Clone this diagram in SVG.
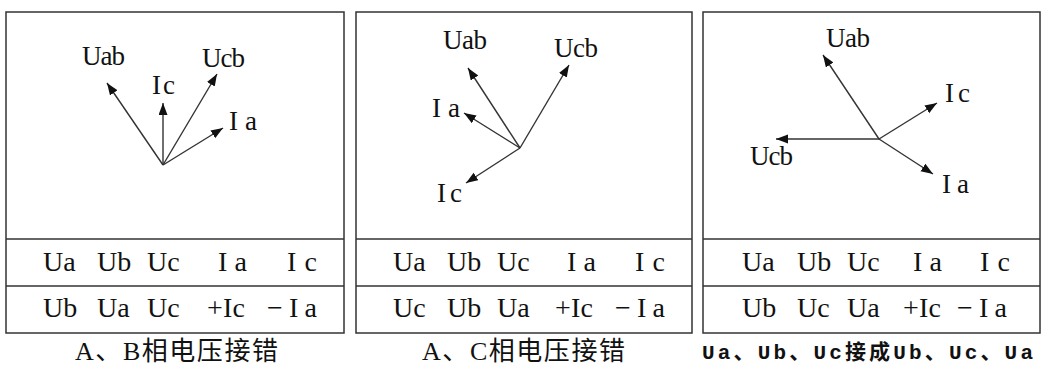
<svg xmlns="http://www.w3.org/2000/svg" width="1043" height="372" viewBox="0 0 1043 372">
<style>
.frame{fill:none;stroke:#333;stroke-width:1.5}
.row{stroke:#333;stroke-width:1.5}
.vec{stroke:#333;stroke-width:1.4;fill:none;marker-end:url(#ah)}
.lbl{font-family:"Liberation Serif","Times New Roman",serif;font-size:27px;fill:#111}
.cell{font-family:"Liberation Serif","Times New Roman",serif;font-size:28px;fill:#111}
.cap{font-family:"Liberation Serif","Noto Sans CJK SC",serif;font-size:26px;fill:#111}
.cap3{font-family:"Liberation Mono","Noto Sans CJK SC",monospace;font-size:21px;font-weight:bold;fill:#111}
</style>
<defs>
<marker id="ah" markerUnits="userSpaceOnUse" markerWidth="13" markerHeight="10" refX="12" refY="4.5" orient="auto">
<path d="M0,0 L12,4.5 L0,9 z" fill="#111"/>
</marker>
</defs>
<g id="panel1">
<rect class="frame" x="6" y="12" width="338" height="321"/>
<line class="row" x1="6" y1="239" x2="344" y2="239"/>
<line class="row" x1="6" y1="286" x2="344" y2="286"/>
<text class="lbl" x="82" y="65" textLength="43">Uab</text>
<text class="lbl" x="152" y="94" textLength="23" lengthAdjust="spacing">Ic</text>
<text class="lbl" x="202" y="67" textLength="43">Ucb</text>
<text class="lbl" x="229" y="130" textLength="28">Ia</text>
<text class="cell" x="43" y="271">Ua</text>
<text class="cell" x="97" y="271">Ub</text>
<text class="cell" x="147" y="271">Uc</text>
<text class="cell" x="218" y="271" textLength="29">Ia</text>
<text class="cell" x="287" y="271" textLength="30">Ic</text>
<text class="cell" x="43" y="317">Ub</text>
<text class="cell" x="97" y="317">Ua</text>
<text class="cell" x="147" y="317">Uc</text>
<text class="cell" x="207" y="317" textLength="38">+Ic</text>
<text class="cell" x="267" y="317" textLength="50">−Ia</text>
<text class="cap" x="75" y="360" textLength="203" lengthAdjust="spacing">A、B相电压接错</text>
</g>
<g id="panel2">
<rect class="frame" x="356" y="12" width="336" height="321"/>
<line class="row" x1="356" y1="239" x2="692" y2="239"/>
<line class="row" x1="356" y1="286" x2="692" y2="286"/>
<text class="lbl" x="443" y="49" textLength="44">Uab</text>
<text class="lbl" x="554" y="57" textLength="44">Ucb</text>
<text class="lbl" x="432" y="117" textLength="28">Ia</text>
<text class="lbl" x="437" y="202" textLength="25">Ic</text>
<text class="cell" x="393" y="271">Ua</text>
<text class="cell" x="447" y="271">Ub</text>
<text class="cell" x="497" y="271">Uc</text>
<text class="cell" x="567" y="271" textLength="29">Ia</text>
<text class="cell" x="635" y="271" textLength="30">Ic</text>
<text class="cell" x="393" y="317">Uc</text>
<text class="cell" x="447" y="317">Ub</text>
<text class="cell" x="497" y="317">Ua</text>
<text class="cell" x="555" y="317" textLength="38">+Ic</text>
<text class="cell" x="615" y="317" textLength="50">−Ia</text>
<text class="cap" x="422" y="360" textLength="203" lengthAdjust="spacing">A、C相电压接错</text>
</g>
<g id="panel3">
<rect class="frame" x="703" y="12" width="337" height="321"/>
<line class="row" x1="703" y1="239" x2="1040" y2="239"/>
<line class="row" x1="703" y1="286" x2="1040" y2="286"/>
<text class="lbl" x="826" y="47" textLength="44">Uab</text>
<text class="lbl" x="945" y="102" textLength="25">Ic</text>
<text class="lbl" x="750" y="165" textLength="43">Ucb</text>
<text class="lbl" x="942" y="193" textLength="27">Ia</text>
<text class="cell" x="742" y="271">Ua</text>
<text class="cell" x="797" y="271">Ub</text>
<text class="cell" x="847" y="271">Uc</text>
<text class="cell" x="913" y="271" textLength="29">Ia</text>
<text class="cell" x="980" y="271" textLength="30">Ic</text>
<text class="cell" x="742" y="317">Ub</text>
<text class="cell" x="797" y="317">Uc</text>
<text class="cell" x="847" y="317">Ua</text>
<text class="cell" x="903" y="317" textLength="38">+Ic</text>
<text class="cell" x="957" y="317" textLength="50">−Ia</text>
<text class="cap3" x="702" y="359" textLength="331" lengthAdjust="spacing">Ua、Ub、Uc接成Ub、Uc、Ua</text>
</g>
<g id="connectors">
<line class="vec" x1="163" y1="165" x2="107" y2="83"/>
<line class="vec" x1="163" y1="165" x2="163" y2="103"/>
<line class="vec" x1="163" y1="165" x2="217" y2="74"/>
<line class="vec" x1="163" y1="165" x2="223" y2="128"/>
<line class="vec" x1="520" y1="148" x2="468" y2="68"/>
<line class="vec" x1="520" y1="148" x2="569" y2="65"/>
<line class="vec" x1="520" y1="148" x2="464" y2="113"/>
<line class="vec" x1="520" y1="148" x2="466" y2="183"/>
<line class="vec" x1="879" y1="139" x2="823" y2="55"/>
<line class="vec" x1="879" y1="139" x2="937" y2="103"/>
<line class="vec" x1="879" y1="139" x2="776" y2="139"/>
<line class="vec" x1="879" y1="139" x2="933" y2="174"/>
</g>
</svg>
